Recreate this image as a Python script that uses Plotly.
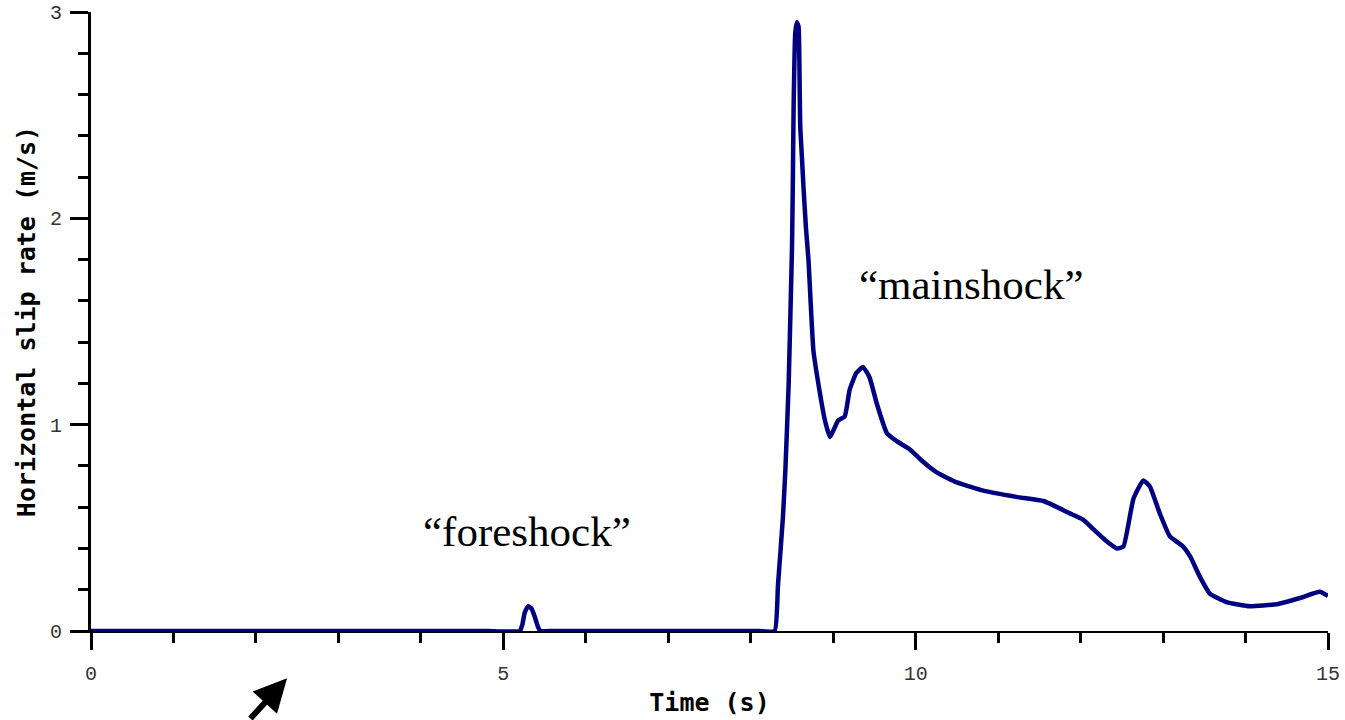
import plotly.graph_objects as go

# Time (s)
time_s = [0.0, 1.0, 2.0, 3.0, 4.0, 4.8, 5.20, 5.23, 5.26, 5.30, 5.34, 5.38, 5.42, 5.45,
          5.6, 6.5, 7.5, 8.1,
          8.29, 8.33, 8.39, 8.42, 8.46, 8.48, 8.50, 8.51, 8.52, 8.54, 8.56,
          8.58, 8.59, 8.60, 8.62, 8.64, 8.67, 8.70, 8.76, 8.84, 8.90, 8.96,
          9.00, 9.06, 9.14, 9.20, 9.28, 9.36, 9.44, 9.53, 9.65, 9.77, 9.93,
          10.09, 10.25, 10.50, 10.82, 11.22, 11.55, 11.87, 12.03, 12.19, 12.30,
          12.44, 12.52, 12.64, 12.76, 12.84, 12.96, 13.08, 13.24, 13.33, 13.45,
          13.57, 13.77, 14.05, 14.38, 14.66, 14.90, 15.0]
# Horizontal slip rate (m/s)
slip_rate = [0.0, 0.0, 0.0, 0.0, 0.0, 0.0, 0.0, 0.03, 0.09, 0.12, 0.11, 0.07, 0.02, 0.0,
             0.0, 0.0, 0.0, 0.0,
             0.0, 0.22, 0.55, 0.78, 1.20, 1.52, 1.85, 2.15, 2.54, 2.90, 2.95,
             2.93, 2.75, 2.45, 2.30, 2.15, 1.95, 1.80, 1.36, 1.15, 1.02, 0.94,
             0.97, 1.02, 1.04, 1.17, 1.25, 1.28, 1.23, 1.10, 0.96, 0.92, 0.88,
             0.82, 0.77, 0.72, 0.68, 0.65, 0.63, 0.57, 0.54, 0.48, 0.44,
             0.40, 0.41, 0.64, 0.73, 0.70, 0.57, 0.46, 0.41, 0.36, 0.26,
             0.18, 0.14, 0.12, 0.13, 0.16, 0.19, 0.17]

x_ticks = [0, 5, 10, 15]
y_ticks = [0, 1, 2, 3]

labels = ["\u201cforeshock\u201d", "\u201cmainshock\u201d"]
label_x = [5.29, 10.67]
label_y = [0.48, 1.68]

mono = "DejaVu Sans Mono"
tickmono = "Liberation Mono"

fig = go.Figure()
fig.add_trace(go.Scatter(
    x=time_s, y=slip_rate, mode="lines",
    line=dict(color="#000080", width=4.5, shape="spline", smoothing=0.4),
    cliponaxis=False, showlegend=False,
))

for txt, lx, ly in zip(labels, label_x, label_y):
    fig.add_annotation(x=lx, y=ly, xref="x", yref="y", text=txt, showarrow=False,
                       font=dict(family="Liberation Serif", size=43, color="black"))

# arrow at bottom-left
fig.add_annotation(x=0.1585, y=-0.0765, xref="paper", yref="paper", text="",
                   showarrow=True, ax=-38, ay=54, arrowhead=2, arrowsize=1.1,
                   arrowwidth=6, arrowcolor="black")

fig.update_layout(
    width=1345, height=720,
    margin=dict(l=91, r=17, t=12, b=89),
    paper_bgcolor="white", plot_bgcolor="white",
    xaxis=dict(
        range=[0, 15], tickvals=x_ticks, ticktext=[str(v) for v in x_ticks],
        automargin=False,
        showgrid=False, zeroline=False, showline=True, linecolor="black", linewidth=2,
        ticks="outside", ticklen=17, tickwidth=2.5, tickcolor="black",
        minor=dict(dtick=1, ticks="outside", ticklen=10, tickwidth=2.5, tickcolor="black", showgrid=False),
        tickfont=dict(family=tickmono, size=20, color="#333333"),
        ticklabelstandoff=6,
        title=dict(text="<b>Time (s)</b>", font=dict(family=mono, size=25, color="black"), standoff=8),
    ),
    yaxis=dict(
        range=[0, 3], tickvals=y_ticks, ticktext=[str(v) for v in y_ticks],
        automargin=False,
        showgrid=False, zeroline=False, showline=True, linecolor="black", linewidth=3,
        ticks="outside", ticklen=18, tickwidth=2.5, tickcolor="black",
        minor=dict(dtick=0.2, ticks="outside", ticklen=10, tickwidth=2.5, tickcolor="black", showgrid=False),
        tickfont=dict(family=tickmono, size=20, color="#333333"),
        ticklabelstandoff=4,
        title=dict(text="<b>Horizontal slip rate (m/s)</b>", font=dict(family=mono, size=25, color="black"), standoff=8),
    ),
)

fig.write_html("out.html")
